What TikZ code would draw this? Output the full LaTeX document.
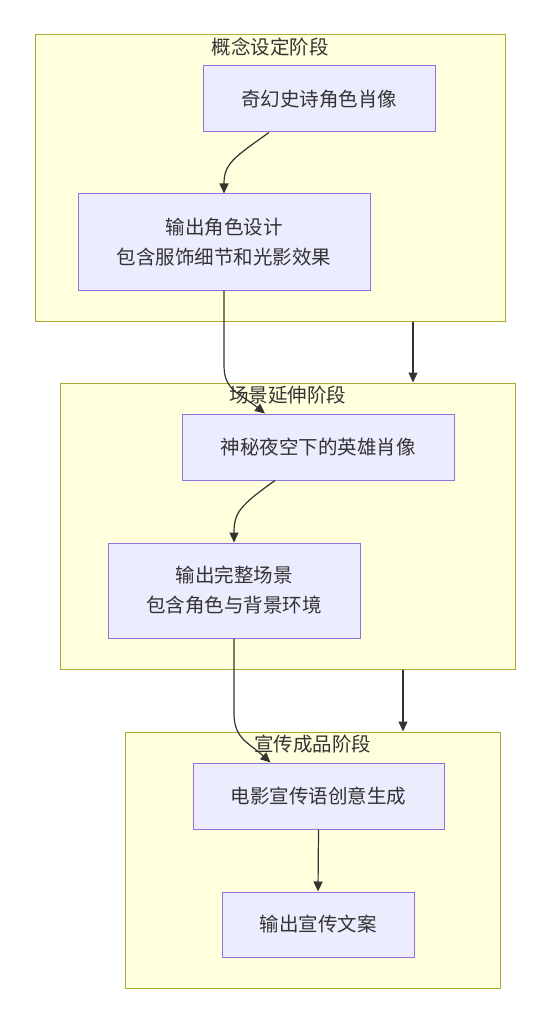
\documentclass[tikz,border=0pt]{standalone}
\usepackage{fontspec}
\setmainfont{Noto Sans CJK SC}
\usetikzlibrary{arrows.meta,positioning}
\definecolor{clusterfill}{HTML}{FFFFDE}
\definecolor{clusterline}{HTML}{AAAA33}
\definecolor{boxfill}{HTML}{ECECFF}
\definecolor{boxline}{HTML}{9370DB}
\definecolor{ink}{HTML}{333333}

\tikzset{
    cluster/.style={
        rectangle,
        draw=clusterline,
        fill=clusterfill,
        line width=1pt,
        inner sep=0pt
    },
    phase/.style={
        text=ink,
        font=\fontsize{19.5}{30}\selectfont,
        inner sep=0pt,
        anchor=north
    },
    stepbox/.style={
        rectangle,
        draw=boxline,
        fill=boxfill,
        line width=1pt,
        text=ink,
        align=center,
        inner sep=0pt,
        font=\fontsize{19.5}{30}\selectfont
    },
    arr/.style={
        draw=ink,
        line width=1.2pt,
        -{Triangle[length=10pt,width=9pt]}
    }
}

\begin{document}
\begin{tikzpicture}[x=1pt, y=-1pt]
        \useasboundingbox (0,0) rectangle (550,1024);

        % clusters
        \node (c1) [cluster, minimum width=470, minimum height=286] at (270,178) {};
        \node (c2) [cluster, minimum width=455, minimum height=286] at (287.5,526) {};
        \node (c3) [cluster, minimum width=375, minimum height=256] at (312.5,860) {};

        \node (t1) [phase, below=3pt of c1.north] {概念设定阶段};
        \node (t2) [phase, below=3pt of c2.north] {场景延伸阶段};
        \node (t3) [phase, below=3pt of c3.north] {宣传成品阶段};

        % steps
        \node (portrait) [stepbox, minimum width=232, minimum height=66] at (319,99)
        {奇幻史诗角色肖像};
        \node (design) [stepbox, minimum width=292, minimum height=96] at (224,242)
        {输出角色设计\\包含服饰细节和光影效果};
        \node (night) [stepbox, minimum width=272, minimum height=66] at (318,447)
        {神秘夜空下的英雄肖像};
        \node (scene) [stepbox, minimum width=252, minimum height=95] at (234,590.5)
        {输出完整场景\\包含角色与背景环境};
        \node (slogan) [stepbox, minimum width=251, minimum height=66] at (318.5,796)
        {电影宣传语创意生成};
        \node (copy) [stepbox, minimum width=192, minimum height=65] at (318,924.5)
        {输出宣传文案};

        % connectors
        \draw[arr] ([xshift=-50]portrait.south) .. controls +(-35,25) and +(0,-30) .. (design.north);
        \draw[arr] (design.south) -- ++(0,75) .. controls +(0,25) and +(-25,-20) .. ([xshift=-53]night.north);
        \draw[arr] ([xshift=-43]night.south) .. controls +(-35,25) and +(0,-30) .. (scene.north);
        \draw[arr] (scene.south) -- ++(0,75) .. controls +(0,25) and +(-22,-20) .. ([xshift=-48]slogan.north);
        \draw[arr] (slogan.south) -- (copy.north);

        \draw[arr] ([xshift=143]c1.south) -- ([xshift=143]c1.south |- c2.north);
        \draw[arr] ([xshift=115.5]c2.south) -- ([xshift=115.5]c2.south |- c3.north);
    \end{tikzpicture}
\end{document}
